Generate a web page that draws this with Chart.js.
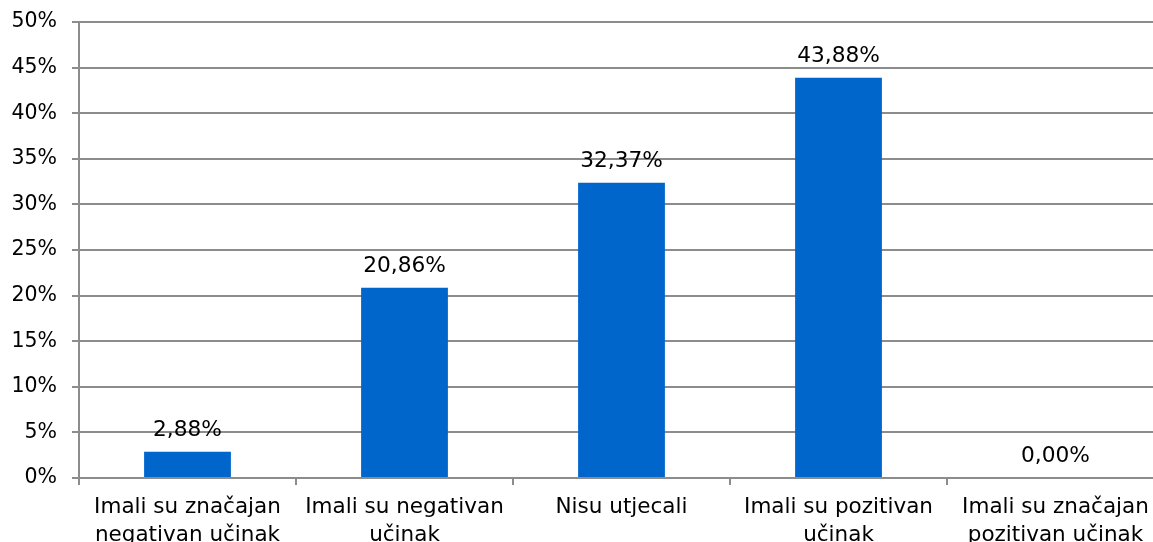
<!DOCTYPE html>
<html>
<head>
<meta charset="utf-8">
<script src="https://cdn.jsdelivr.net/npm/chart.js@4/dist/chart.umd.min.js"></script>
<style>
    html, body { margin: 0; padding: 0; background: #fff; overflow: hidden; }
    #wrap { position: absolute; left: 0; top: 0; width: 1170px; height: 570px; }
</style>
</head>
<body>
<div id="wrap"><canvas id="chart"></canvas></div>
<script>
const categories = [
    ['Imali su značajan', 'negativan učinak'],
    ['Imali su negativan', 'učinak'],
    'Nisu utjecali',
    ['Imali su pozitivan', 'učinak'],
    ['Imali su značajan', 'pozitivan učinak']
];
const values = [2.88, 20.86, 32.37, 43.88, 0.00];
const valueLabels = ['2,88%', '20,86%', '32,37%', '43,88%', '0,00%'];
const yTicks = [0, 5, 10, 15, 20, 25, 30, 35, 40, 45, 50];

const FONT = 'DejaVu Sans';
const GRID = '#8c8c8c';

// Value labels above bars
const barLabels = {
    id: 'barLabels',
    afterDatasetsDraw(chart) {
        const ctx = chart.ctx;
        const meta = chart.getDatasetMeta(0);
        ctx.save();
        ctx.font = '21.7px "' + FONT + '"';
        ctx.fillStyle = '#000';
        ctx.textAlign = 'center';
        ctx.textBaseline = 'alphabetic';
        meta.data.forEach((bar, i) => {
            ctx.fillText(valueLabels[i], bar.x, bar.y - 16);
        });
        ctx.restore();
    }
};

new Chart(document.getElementById('chart').getContext('2d'), {
    type: 'bar',
    data: {
        labels: categories,
        datasets: [{
            data: values,
            backgroundColor: '#0066cc',
            borderWidth: 0,
            barPercentage: 0.4,
            categoryPercentage: 1.0
        }]
    },
    options: {
        responsive: true,
        maintainAspectRatio: false,
        animation: false,
        layout: { padding: { top: 22, right: 6, left: 0, bottom: 0 } },
        plugins: {
            legend: { display: false },
            tooltip: { enabled: false }
        },
        scales: {
            y: {
                min: 0,
                max: 50,
                afterBuildTicks: (scale) => { scale.ticks = yTicks.map(v => ({ value: v })); },
                afterFit: (scale) => {
                    scale.width = 79;
                    scale.paddingTop = 0;
                    scale.paddingBottom = 0;
                },
                ticks: {
                    callback: (v) => v + '%',
                    color: '#000',
                    font: { family: FONT, size: 20.5 },
                    padding: 15
                },
                grid: { color: GRID, lineWidth: 2, tickLength: 7 },
                border: { color: GRID, width: 2 }
            },
            x: {
                afterFit: (scale) => { scale.height = 92; },
                ticks: {
                    color: '#000',
                    font: { family: FONT, size: 21.5, lineHeight: 1.3 },
                    padding: 8,
                    maxRotation: 0,
                    autoSkip: false
                },
                grid: { color: GRID, lineWidth: 2, drawOnChartArea: false, tickLength: 7, offset: true },
                border: { color: GRID, width: 2 }
            }
        }
    },
    plugins: [barLabels]
});
</script>
</body>
</html>
